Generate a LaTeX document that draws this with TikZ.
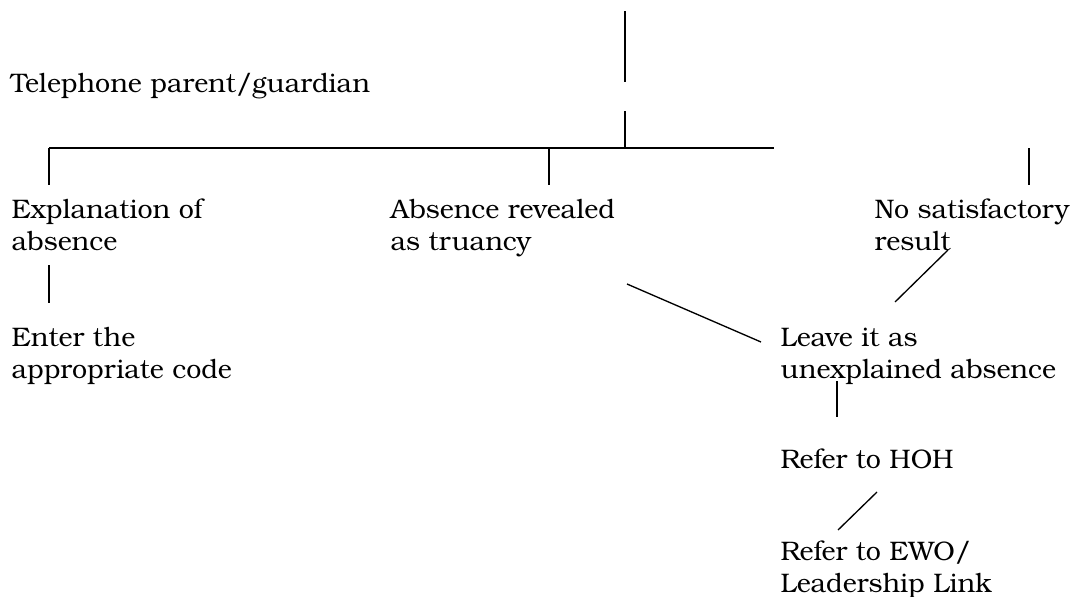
\documentclass[tikz,border=0pt]{standalone}
\usepackage{fontspec}
\setmainfont{TeX Gyre Bonum}

\tikzset{every picture/.style={line width=1pt}}
\tikzset{txt/.style={anchor=base west, inner sep=0pt, align=left, font=\fontsize{20.1}{24}\selectfont}}
\tikzset{bar/.style={line width=1.8pt}}

\begin{document}
\begin{tikzpicture}[x=0.75pt,y=0.75pt,yscale=-1,xscale=1]
	\useasboundingbox (0,0) rectangle (1070,596);

	% Text Nodes (base = last line)
	\node (tel) [txt] at (10,92) {Telephone parent/guardian};
	\node (expl) [txt] at (11,250) {Explanation of\\absence};
	\node (truant) [txt] at (390,250) {Absence revealed\\as truancy};
	\node (nosat) [txt] at (874,250) {No satisfactory\\result};
	\node (code) [txt] at (11,378) {Enter the\\appropriate code};
	\node (leave) [txt] at (780,378) {Leave it as\\unexplained absence};
	\node (hoh) [txt] at (780,468) {Refer to HOH};
	\node (ewo) [txt] at (780,592) {Refer to EWO/\\Leadership Link};

	% Line ends
	\coordinate (topA) at (625,11);
	\coordinate (topB) at (625,82);
	\coordinate (topC) at (625,111);
	\coordinate (barL) at (49,148);
	\coordinate (barM) at (549,148);
	\coordinate (barT) at (625,148);
	\coordinate (barR) at (774,148);
	\coordinate (explT) at (49,185);
	\coordinate (truantT) at (549,185);
	\coordinate (nosatA) at (1029,148);
	\coordinate (nosatB) at (1029,185);
	\coordinate (codeA) at (49,265);
	\coordinate (codeB) at (49,303);
	\coordinate (truantB) at (627,284);
	\coordinate (leaveL) at (761,342);
	\coordinate (nosatC) at (948,250);
	\coordinate (leaveR) at (895,302);
	\coordinate (leaveB) at (837,381);
	\coordinate (hohT) at (837,417);
	\coordinate (hohB) at (877,492);
	\coordinate (ewoT) at (838,530);

	% Straight Lines
	\draw (topA) -- (topB);
	\draw (topC) -- (barT);
	\draw [bar] (barL) -- (barR);
	\draw (barL) -- (explT);
	\draw (barM) -- (truantT);
	\draw (nosatA) -- (nosatB);
	\draw (codeA) -- (codeB);
	\draw (truantB) -- (leaveL);
	\draw (nosatC) -- (leaveR);
	\draw (leaveB) -- (hohT);
	\draw (hohB) -- (ewoT);

\end{tikzpicture}
\end{document}
